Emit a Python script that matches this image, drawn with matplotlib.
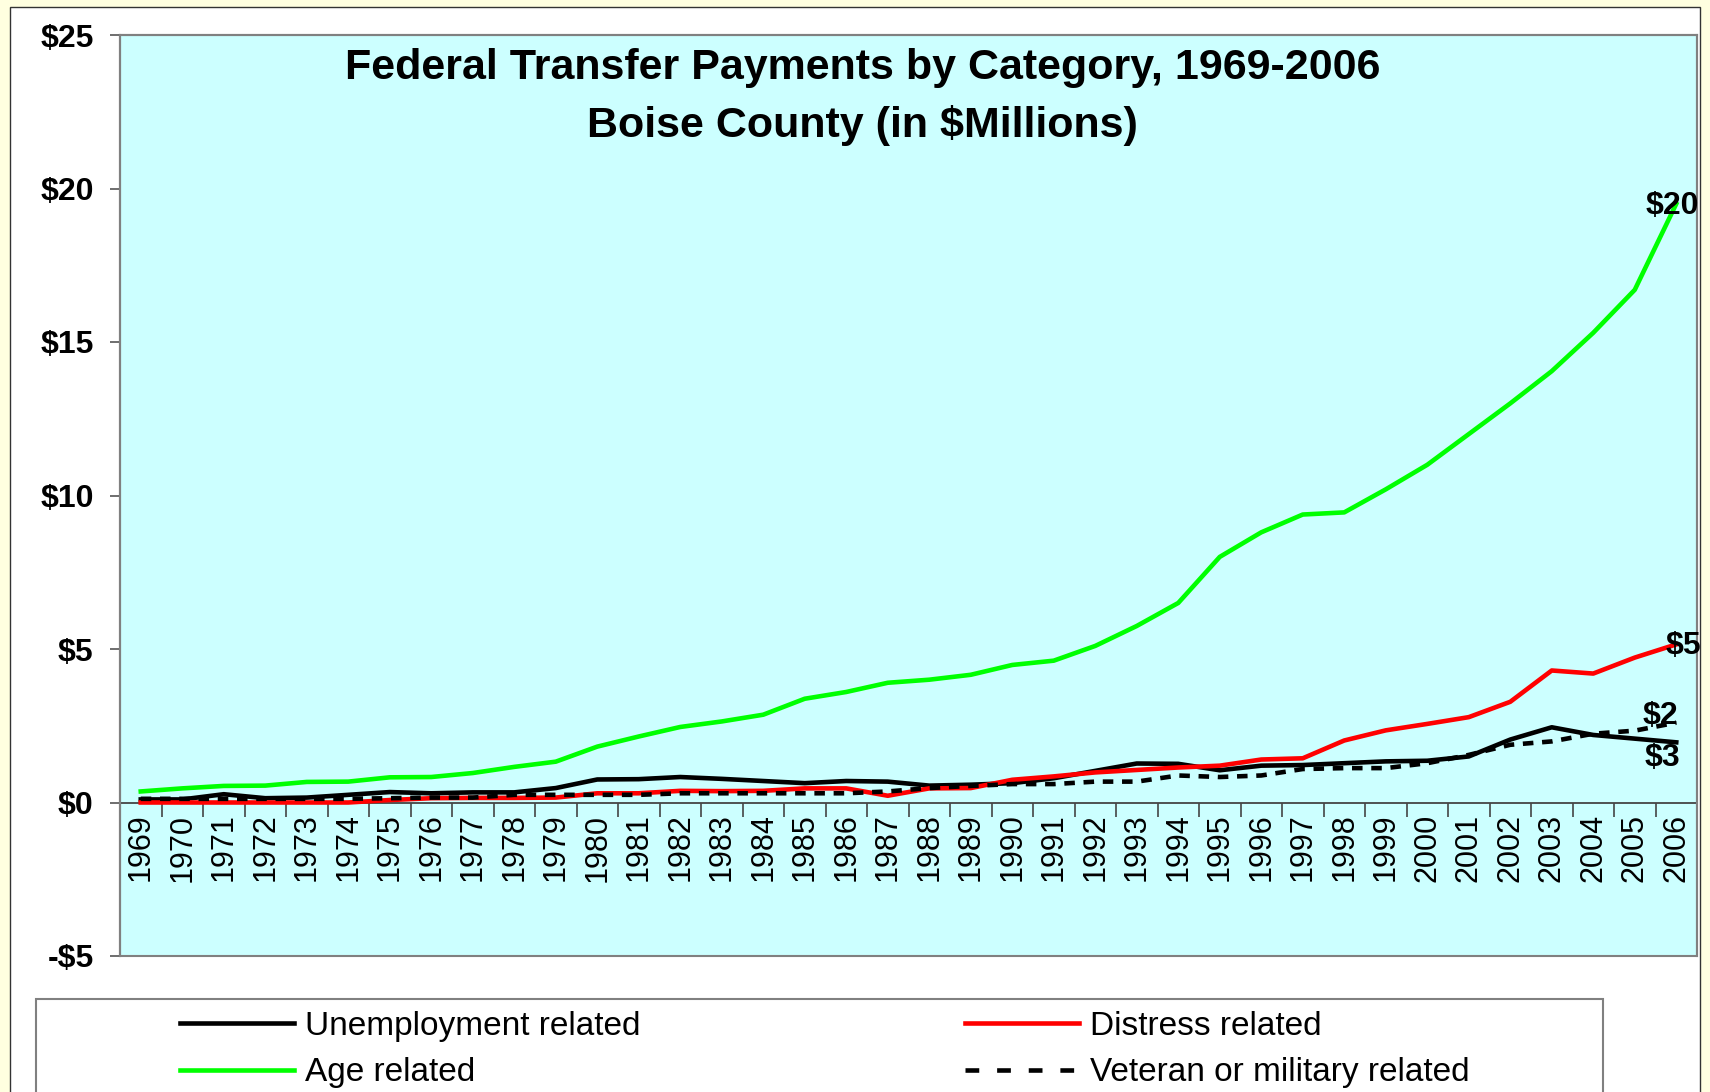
import numpy as np
import matplotlib
matplotlib.use("Agg")
from matplotlib import pyplot as plt
from matplotlib.patches import Rectangle
from matplotlib.lines import Line2D

years = list(range(1969, 2007))

unemployment = [0.10, 0.10, 0.27, 0.14, 0.16, 0.25, 0.34, 0.30, 0.33, 0.33, 0.47, 0.75, 0.76, 0.83,
                0.77, 0.70, 0.63, 0.70, 0.68, 0.55, 0.58, 0.63, 0.79, 1.03, 1.27, 1.26, 1.05, 1.20,
                1.22, 1.28, 1.34, 1.36, 1.50, 2.05, 2.45, 2.20, 2.08, 1.96]
distress = [0.00, 0.00, 0.00, 0.00, 0.00, 0.00, 0.08, 0.14, 0.15, 0.15, 0.16, 0.30, 0.30, 0.38,
            0.37, 0.38, 0.46, 0.46, 0.22, 0.46, 0.47, 0.74, 0.85, 0.98, 1.06, 1.14, 1.20, 1.40,
            1.44, 2.02, 2.35, 2.56, 2.78, 3.28, 4.30, 4.20, 4.72, 5.15]
age = [0.36, 0.46, 0.54, 0.55, 0.67, 0.68, 0.82, 0.83, 0.96, 1.16, 1.33, 1.82, 2.15, 2.46,
       2.64, 2.86, 3.38, 3.60, 3.90, 4.00, 4.16, 4.48, 4.62, 5.10, 5.75, 6.50, 8.00, 8.80,
       9.38, 9.45, 10.20, 11.00, 12.00, 13.00, 14.05, 15.30, 16.70, 19.50]
veteran = [0.12, 0.12, 0.12, 0.12, 0.12, 0.12, 0.14, 0.16, 0.16, 0.25, 0.25, 0.25, 0.25, 0.30,
           0.30, 0.30, 0.30, 0.30, 0.36, 0.47, 0.54, 0.60, 0.60, 0.68, 0.68, 0.88, 0.83, 0.88,
           1.09, 1.12, 1.12, 1.28, 1.55, 1.88, 1.99, 2.24, 2.34, 2.60]

end_labels = ["$3", "$5", "$20", "$2"]
series_names = ["Unemployment related", "Distress related", "Age related", "Veteran or military related"]

W, H = 1710, 1092
fig = plt.figure(figsize=(W / 100, H / 100), dpi=100)
fig.patch.set_facecolor("#FFFFE0")
plt.rcParams["font.family"] = ["Liberation Sans", "DejaVu Sans"]

# white chart area with thin dark frame (behind everything)
fig.patches.append(Rectangle((10 / W, -0.05), 1690 / W, 1.05 - 7 / H, transform=fig.transFigure,
                             facecolor="white", edgecolor="#333333", lw=1, zorder=-10))

ax = fig.add_axes([120 / W, 1 - 956 / H, (1697 - 120) / W, (956 - 35) / H])
ax.set_facecolor("#CCFFFF")

x = np.arange(len(years))
lw = 3.3
ax.plot(x, unemployment, color="black", lw=lw, solid_joinstyle="round", zorder=3)
ax.plot(x, distress, color="#FF0000", lw=lw, solid_joinstyle="round", zorder=3)
ax.plot(x, age, color="#00FF00", lw=lw, solid_joinstyle="round", zorder=3)
ax.plot(x, veteran, color="black", lw=lw, linestyle=(0, (2.3, 1.9)), zorder=4)

ax.set_xlim(-0.5, len(years) - 0.5)
ax.set_ylim(-5, 25)

# plot-area border
for s in ["top", "right", "left"]:
    ax.spines[s].set_color("#808080")
    ax.spines[s].set_linewidth(1.5)
ax.spines["left"].set_color("#555555")
ax.spines["bottom"].set_position(("data", 0))
ax.spines["bottom"].set_color("#444444")
ax.spines["bottom"].set_linewidth(1.3)
ax.add_patch(Rectangle((0, 0), 1, 1, transform=ax.transAxes, fill=False,
                       edgecolor="#808080", lw=1.5, zorder=5, clip_on=False))

ax.set_yticks(np.arange(-5, 26, 5))
ax.set_yticklabels(["-$5" if v < 0 else "$%d" % v for v in range(-5, 26, 5)],
                   fontsize=23, fontweight="bold")
ax.tick_params(axis="y", direction="out", length=7, width=1.2, color="#555555", pad=12)

ax.set_xticks(np.arange(0.5, len(years), 1))
ax.set_xticklabels([])
ax.set_xticks(x, minor=True)
ax.set_xticklabels([str(y) for y in years], minor=True, rotation=90, fontsize=22)
ax.tick_params(axis="x", which="major", direction="out", length=10, width=1.2, color="#444444")
ax.tick_params(axis="x", which="minor", length=0, pad=8)

ax.text(0.471, 0.964, "Federal Transfer Payments by Category, 1969-2006", transform=ax.transAxes,
        ha="center", va="center", fontsize=31, fontweight="bold")
ax.text(0.471, 0.902, "Boise County (in $Millions)", transform=ax.transAxes,
        ha="center", va="center", fontsize=31, fontweight="bold")

# end-of-series value labels
last = len(years) - 1
offs = [(-14, -16), (7, -2), (-4, -2), (-16, 7)]
for vals, lab, (dx, dy) in zip([unemployment, distress, age, veteran], end_labels, offs):
    ax.annotate(lab, (last, vals[-1]), xytext=(dx, dy), textcoords="offset pixels",
                ha="center", va="center", fontsize=23, fontweight="bold", zorder=6)

# legend box
fig.patches.append(Rectangle((36 / W, -0.05), (1603 - 36) / W, 0.05 + 1 - 999 / H,
                             transform=fig.transFigure, facecolor="white",
                             edgecolor="#808080", lw=1.5, zorder=-5))
handles = [Line2D([], [], color="black", lw=lw),
           Line2D([], [], color="#00FF00", lw=lw),
           Line2D([], [], color="#FF0000", lw=lw),
           Line2D([], [], color="black", lw=lw, linestyle=(0, (3.0, 3.9)))]
labels = [series_names[0], series_names[2], series_names[1], series_names[3]]
fs = 24
px = fs * 100 / 72
fig.legend(handles, labels, loc="upper left", bbox_to_anchor=(180 / W, 1 - 1011 / H),
           ncol=2, frameon=False, fontsize=fs, borderpad=0, borderaxespad=0,
           handlelength=114 / px, handletextpad=11 / px, labelspacing=0.46,
           columnspacing=(965 - 641) / px)

fig.savefig("out.png", dpi=100, facecolor=fig.get_facecolor())
